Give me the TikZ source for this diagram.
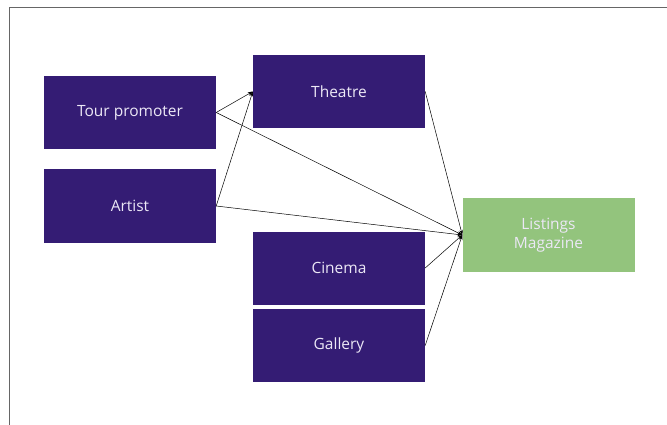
\documentclass[tikz,border=0pt]{standalone}
\usepackage{fontspec}
\setmainfont{Open Sans}
\usetikzlibrary{arrows.meta}
\definecolor{boxpurple}{RGB}{52,28,116}
\definecolor{boxgreen}{RGB}{147,196,125}
\definecolor{boxtext}{RGB}{236,232,246}
\begin{document}
\begin{tikzpicture}[x=1pt, y=-1pt,
    entity/.style={rectangle, fill=boxpurple, text=boxtext, minimum width=172pt, minimum height=73pt, inner sep=0pt, font=\fontsize{15.5}{19}\selectfont, align=center},
    feed/.style={-{Stealth[length=5pt, width=3.5pt]}, line width=0.5pt, black}]
    \useasboundingbox (0,0) rectangle (667,425);
    % Rahmen
    \draw[line width=1pt, black!60] (9,425) -- (9,8) -- (667,8);

    % Quellen
    \node[entity] (promoter) at (130,112.5) {Tour promoter};
    \node[entity] (artist) at (130,206) {Artist};

    % Veranstaltungsorte
    \node[entity] (theatre) at (339,91.5) {Theatre};
    \node[entity] (cinema) at (339,268) {Cinema};
    \node[entity] (gallery) at (339,345.5) {Gallery};

    % Magazin
    \node[entity, fill=boxgreen] (magazine) at (548.5,235) {Listings\\Magazine};

    % Pfeile
    \draw[feed] (promoter.east) -- (theatre.west);
    \draw[feed] (artist.east) -- (theatre.west);
    \draw[feed] (promoter.east) -- (magazine.west);
    \draw[feed] (artist.east) -- (magazine.west);
    \draw[feed] (theatre.east) -- (magazine.west);
    \draw[feed] (cinema.east) -- (magazine.west);
    \draw[feed] (gallery.east) -- (magazine.west);
\end{tikzpicture}
\end{document}
